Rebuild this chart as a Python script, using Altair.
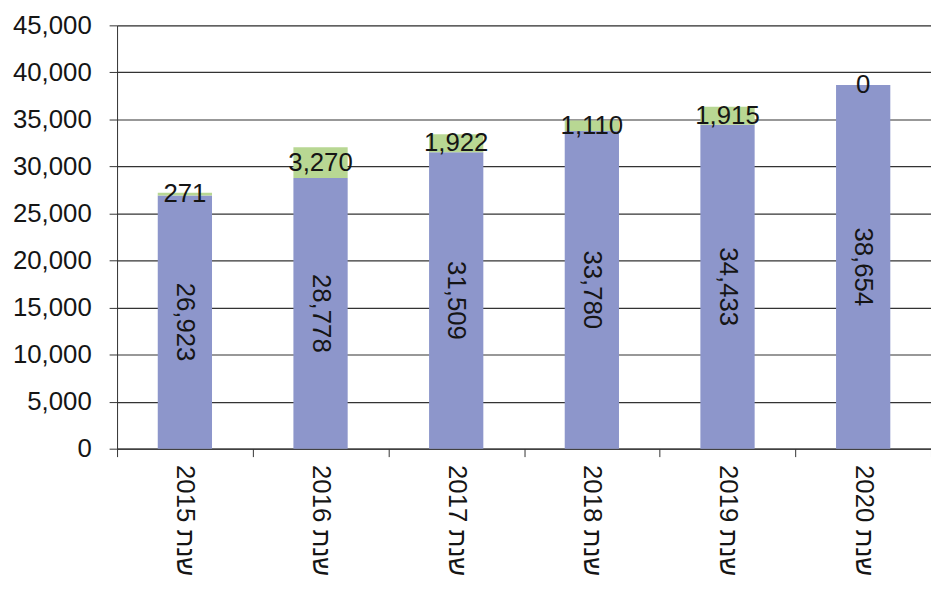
import altair as alt
import pandas as pd

years = ["שנת 2015", "שנת 2016", "שנת 2017", "שנת 2018", "שנת 2019", "שנת 2020"]
base_values = [26923, 28778, 31509, 33780, 34433, 38654]
extra_values = [271, 3270, 1922, 1110, 1915, 0]
y_ticks = [0, 5000, 10000, 15000, 20000, 25000, 30000, 35000, 40000, 45000]

df = pd.DataFrame({"year": years, "base": base_values, "extra": extra_values})

FONT = "Liberation Sans"
BLUE = "#8d96cb"
GREEN = "#b8d793"
INK = "#151515"
LINE = "#333333"

x_axis = alt.Axis(
    labelAngle=90, labelAlign="left", labelBaseline="middle",
    tickBand="extent", tickSize=8, tickColor=LINE, domainColor=LINE,
    labelPadding=8, labelFontSize=26, labelFont=FONT, labelColor=INK,
    grid=False, labelLimit=300, title=None,
)
y_axis = alt.Axis(
    values=y_ticks, format=",.0f", tickSize=8, tickColor=LINE, domainColor=LINE,
    gridColor=LINE, gridWidth=1.2, labelPadding=18, labelFontSize=26,
    labelFont=FONT, labelColor=INK, title=None,
)
x_scale = alt.Scale(paddingInner=0, paddingOuter=0)
y_scale = alt.Scale(domain=[0, 45000], nice=False)

x = alt.X("year:N", sort=None, scale=x_scale, axis=x_axis)

base = alt.Chart(df).transform_calculate(
    top="datum.base + datum.extra",
    mid_base="datum.base / 2",
    mid_extra="datum.base + datum.extra / 2",
)

bars_blue = base.mark_bar(color=BLUE, width=alt.RelativeBandSize(0.4)).encode(
    x=x, y=alt.Y("base:Q", scale=y_scale, axis=y_axis)
)
bars_green = base.mark_bar(color=GREEN, width=alt.RelativeBandSize(0.4)).encode(
    x=x, y=alt.Y("base:Q", scale=y_scale, axis=y_axis), y2="top:Q"
)
text_blue = base.mark_text(angle=90, fontSize=26, font=FONT, color=INK).encode(
    x=x, y=alt.Y("mid_base:Q", scale=y_scale, axis=y_axis),
    text=alt.Text("base:Q", format=",.0f"),
)
text_green = base.mark_text(fontSize=26, font=FONT, color=INK).encode(
    x=x, y=alt.Y("mid_extra:Q", scale=y_scale, axis=y_axis),
    text=alt.Text("extra:Q", format=",.0f"),
)

chart = alt.layer(bars_blue, bars_green, text_blue, text_green).properties(
    width=821, height=427,
    autosize=alt.AutoSizeParams(type="none"),
    padding={"left": 110, "top": 15, "right": 0, "bottom": 135},
).configure_view(stroke=None).configure(background="white")

chart.save("out.html", embed_options={"renderer": "svg", "actions": False})
